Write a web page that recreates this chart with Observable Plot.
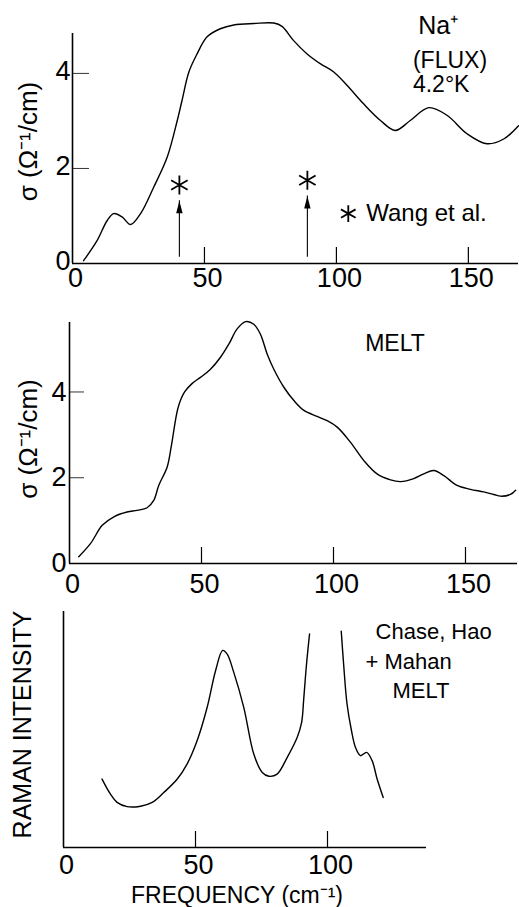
<!DOCTYPE html>
<html>
<head>
<meta charset="utf-8">
<script src="https://cdn.jsdelivr.net/npm/d3@7"></script>
<script src="https://cdn.jsdelivr.net/npm/@observablehq/plot@0.6"></script>
<style>
  html, body { margin: 0; padding: 0; background: #fff; }
  #wrap { position: relative; width: 519px; height: 907px; background: #fff; overflow: hidden; }
  #wrap svg { position: absolute; left: 0; }
</style>
</head>
<body>
<div id="wrap"></div>
<script>
// ---- Panel 1: Na+ (FLUX) 4.2°K conductivity ----
const fluxFreq  = [4.2, 9.3, 13.1, 15.6, 18.8, 22, 25.8, 30.8, 35.9, 39.7, 41.5, 44.1, 47.2, 51, 56, 61.1, 68.7, 76.3, 79.4, 83.8, 88.9, 94, 99, 104, 110.3, 116.7, 122.3, 128, 135, 141.9, 149.5, 157, 163.4, 169];
const fluxSigma = [0.06, 0.48, 0.9, 1.05, 0.98, 0.82, 1.05, 1.61, 2.24, 3.01, 3.43, 4.03, 4.41, 4.77, 4.94, 5.02, 5.05, 5.06, 4.99, 4.69, 4.41, 4.2, 4.03, 3.75, 3.36, 3.01, 2.8, 3.01, 3.28, 3.12, 2.73, 2.52, 2.62, 2.9];
// Wang et al. points
const wangFreq  = [40.5, 89];
const wangSigma = [1.65, 1.75];

// ---- Panel 2: MELT conductivity ----
const meltFreq  = [3.5, 8, 12.4, 16.8, 21.8, 25.6, 29.4, 31.9, 33.8, 37, 38.6, 41.2, 43.6, 46.5, 49.6, 53.4, 57.2, 60.4, 63.5, 66.7, 69.8, 72.3, 74.9, 77.4, 81.2, 85, 88.8, 93.8, 97.6, 101.4, 106.4, 111.5, 116.5, 121.6, 125.4, 130.4, 134.2, 138, 141.8, 146.8, 151.9, 156.9, 160.7, 163.3, 167, 169];
const meltSigma = [0.16, 0.47, 0.89, 1.09, 1.2, 1.24, 1.3, 1.47, 1.82, 2.25, 2.75, 3.65, 4.0, 4.2, 4.34, 4.53, 4.81, 5.12, 5.47, 5.64, 5.58, 5.35, 4.88, 4.53, 4.11, 3.8, 3.57, 3.43, 3.33, 3.18, 2.83, 2.4, 2.09, 1.95, 1.91, 1.98, 2.09, 2.17, 2.05, 1.82, 1.73, 1.67, 1.61, 1.57, 1.61, 1.71];

// ---- Panel 3: Raman intensity (Chase, Hao + Mahan, MELT), arbitrary units ----
const ramanFreqA = [14.6, 17.8, 20.3, 24.1, 29.2, 33.6, 38, 43.1, 46.8, 50.6, 54.4, 57.6, 60.3, 62, 64.5, 68.3, 72.1, 75.3, 77.8, 80.9, 84.7, 88.5, 90.2, 91.0, 92.0, 93.2];
const ramanIntA  = [2.9, 2.26, 1.91, 1.73, 1.75, 1.91, 2.33, 2.9, 3.53, 4.52, 5.93, 7.49, 8.35, 8.19, 7.42, 5.93, 3.95, 3.18, 3.02, 3.11, 3.81, 4.66, 5.3, 6.3, 7.7, 9.05];
const ramanFreqB = [105.2, 106.2, 107.4, 109.0, 110.6, 112.5, 114.8, 116.9, 118.8, 121.1];
const ramanIntB  = [9.17, 7.63, 6.08, 5.0, 4.24, 3.89, 4.03, 3.68, 2.9, 2.12];

// ---- Tick labels ----
const xTicks12 = [0, 50, 100, 150];
const xTicks3  = [0, 50, 100];
const yTicks   = [0, 2, 4];

const yLabel = "σ (Ω⁻¹/cm)";

const font = "'Liberation Sans', Arial, Helvetica, sans-serif";
const baseStyle = {fontFamily: font, fontSize: "26px", background: "transparent", color: "black", overflow: "visible"};

// narrow filled arrowhead, tip at the origin, pointing up
const arrowHead = {
  draw(context, size) {
    const s = Math.sqrt(size);
    context.moveTo(0, 0);
    context.lineTo(0.45 * s, 1.75 * s);
    context.lineTo(-0.45 * s, 1.75 * s);
    context.closePath();
  }
};

const flux = fluxFreq.map((f, i) => ({f, s: fluxSigma[i]}));
const wang = wangFreq.map((f, i) => ({f, s: wangSigma[i]}));
const melt = meltFreq.map((f, i) => ({f, s: meltSigma[i]}));
const raman = [
  ...ramanFreqA.map((f, i) => ({f, v: ramanIntA[i], seg: "A"})),
  ...ramanFreqB.map((f, i) => ({f, v: ramanIntB[i], seg: "B"}))
];

const wrap = document.getElementById("wrap");

// Panel 1
const p1 = Plot.plot({
  width: 519, height: 300,
  marginLeft: 72, marginRight: 1, marginTop: 33, marginBottom: 37,
  x: {domain: [0, 169], label: null},
  y: {domain: [0, 4.84], label: null},
  style: baseStyle,
  marks: [
    Plot.ruleY([0], {strokeWidth: 1.6}),
    Plot.ruleX([0], {strokeWidth: 1.6}),
    Plot.ruleX(xTicks12.filter(t => t > 0), {x: d => d, y1: 0, y2: 0, insetTop: -16, strokeWidth: 1.2}),
    Plot.ruleY(yTicks.filter(t => t > 0), {y: d => d, x1: 0, x2: 0, insetRight: -17, strokeWidth: 0.8}),
    Plot.axisX(xTicks12, {tickSize: 0, tickPadding: 4, dx: 3, label: null, fontSize: 27}),
    Plot.axisY(yTicks, {tickSize: 0, tickPadding: 2, dy: -2, label: null, fontSize: 27}),
    Plot.text([yLabel], {frameAnchor: "left", textAnchor: "middle", dx: -44, dy: -7, rotate: -90, fontSize: 26}),
    Plot.line(flux, {x: "f", y: "s", curve: "catmull-rom", strokeWidth: 1.4}),
    Plot.ruleX(wang, {x: "f", y1: 0.13, y2: d => d.s - 0.33, strokeWidth: 1.1}),
    Plot.dot(wang, {x: "f", y: d => d.s - 0.33, symbol: arrowHead, r: 4, fill: "black", stroke: "none"}),
    Plot.dot(wang, {x: "f", y: "s", symbol: "asterisk", r: 9, strokeWidth: 1.8}),
    Plot.dot(["Wang et al."], {x: 104.5, y: 1.05, symbol: "asterisk", r: 8, strokeWidth: 1.8}),
    Plot.text(["Wang et al."], {x: 111.3, y: 1.05, textAnchor: "start", fontSize: 24}),
    Plot.text(["Na⁺"], {x: 131, y: 4.99, textAnchor: "start", fontSize: 25}),
    Plot.text(["(FLUX)"], {x: 129, y: 4.27, textAnchor: "start", fontSize: 23}),
    Plot.text(["4.2°K"], {x: 129, y: 3.76, textAnchor: "start", fontSize: 23})
  ]
});
p1.style.top = "0px";
wrap.appendChild(p1);

// Panel 2
const p2 = Plot.plot({
  width: 519, height: 305,
  marginLeft: 69, marginRight: 2, marginTop: 32, marginBottom: 32,
  x: {domain: [0, 169.7], label: null},
  y: {domain: [0, 5.62], label: null},
  style: baseStyle,
  marks: [
    Plot.ruleY([0], {strokeWidth: 1.6}),
    Plot.ruleX([0], {strokeWidth: 1.6}),
    Plot.ruleX(xTicks12.filter(t => t > 0), {x: d => d, y1: 0, y2: 0, insetTop: -16, strokeWidth: 1.2}),
    Plot.ruleY(yTicks.filter(t => t > 0), {y: d => d, x1: 0, x2: 0, insetRight: -15, strokeWidth: 0.8}),
    Plot.axisX(xTicks12, {tickSize: 0, tickPadding: 10, dx: 3, label: null, fontSize: 27}),
    Plot.axisY(yTicks, {tickSize: 0, tickPadding: 3, label: null, fontSize: 27}),
    Plot.text([yLabel], {frameAnchor: "left", textAnchor: "middle", dx: -41, dy: -4, rotate: -90, fontSize: 26}),
    Plot.line(melt, {x: "f", y: "s", curve: "catmull-rom", strokeWidth: 1.4}),
    Plot.text(["MELT"], {x: 112, y: 5.12, textAnchor: "start", fontSize: 23})
  ]
});
p2.style.top = "290px";
wrap.appendChild(p2);

// Panel 3
const p3 = Plot.plot({
  width: 519, height: 312,
  marginLeft: 63, marginRight: 93, marginTop: 16, marginBottom: 60,
  x: {domain: [0, 137.5], label: null},
  y: {domain: [0, 10], label: null, axis: null},
  style: baseStyle,
  marks: [
    Plot.ruleY([0], {strokeWidth: 1.6}),
    Plot.ruleX([0], {strokeWidth: 1.6}),
    Plot.ruleX(xTicks3.filter(t => t > 0), {x: d => d, y1: 0, y2: 0, insetTop: -16, strokeWidth: 1.2}),
    Plot.axisX(xTicks3, {tickSize: 0, tickPadding: 7, dx: 3, label: null, fontSize: 27}),
    Plot.text(["RAMAN INTENSITY"], {frameAnchor: "left", textAnchor: "middle", dx: -41, dy: -5, rotate: -90, fontSize: 25}),
    Plot.text(["FREQUENCY (cm⁻¹)"], {frameAnchor: "bottom", textAnchor: "middle", dx: -8, dy: 55, fontSize: 23}),
    Plot.line(raman, {x: "f", y: "v", z: "seg", curve: "catmull-rom", strokeWidth: 1.4}),
    Plot.text(["Chase, Hao"], {x: 118.2, y: 9.12, textAnchor: "start", fontSize: 22}),
    Plot.text(["+ Mahan"], {x: 114.4, y: 7.85, textAnchor: "start", fontSize: 22}),
    Plot.text(["MELT"], {x: 124.6, y: 6.65, textAnchor: "start", fontSize: 22})
  ]
});
p3.style.top = "595px";
wrap.appendChild(p3);
</script>
</body>
</html>
